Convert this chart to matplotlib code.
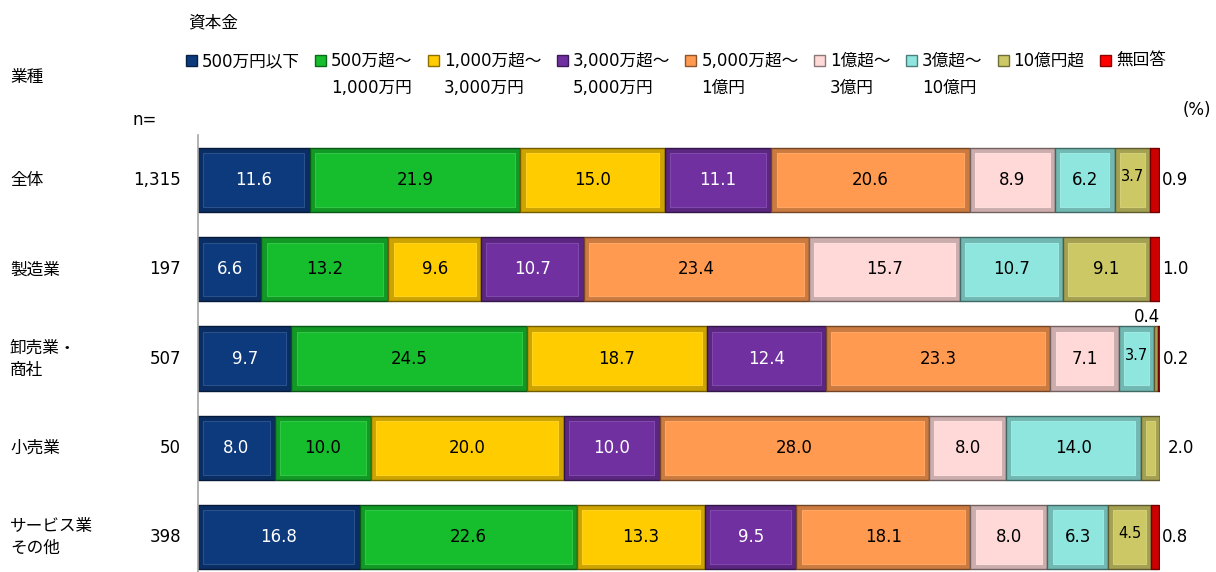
import matplotlib
matplotlib.use("Agg")
import matplotlib.pyplot as plt
import matplotlib.colors as mcolors
from matplotlib.patches import Patch
from matplotlib.transforms import blended_transform_factory
import numpy as np

plt.rcParams['font.family'] = ['DejaVu Sans', 'Noto Sans CJK JP']

# ---- data ----
industries = ["全体", "製造業", "卸売業・\n商社", "小売業", "サービス業\nその他"]
n_values = ["1,315", "197", "507", "50", "398"]
legend_line1 = ["500万円以下", "500万超～", "1,000万超～", "3,000万超～", "5,000万超～",
                "1億超～", "3億超～", "10億円超", "無回答"]
legend_line2 = ["", "1,000万円", "3,000万円", "5,000万円", "1億円", "3億円", "10億円", "", ""]
s_under500 = [11.6, 6.6, 9.7, 8.0, 16.8]
s_500_1000 = [21.9, 13.2, 24.5, 10.0, 22.6]
s_1000_3000 = [15.0, 9.6, 18.7, 20.0, 13.3]
s_3000_5000 = [11.1, 10.7, 12.4, 10.0, 9.5]
s_5000_1oku = [20.6, 23.4, 23.3, 28.0, 18.1]
s_1_3oku = [8.9, 15.7, 7.1, 8.0, 8.0]
s_3_10oku = [6.2, 10.7, 3.7, 14.0, 6.3]
s_over10oku = [3.7, 9.1, 0.4, 2.0, 4.5]
s_noanswer = [0.9, 1.0, 0.2, 0.0, 0.8]
series = [s_under500, s_500_1000, s_1000_3000, s_3000_5000, s_5000_1oku,
          s_1_3oku, s_3_10oku, s_over10oku, s_noanswer]

colors = ["#0C3A7C", "#16BE2E", "#FFCC00", "#7030A0", "#FF9A50",
          "#FFD8D8", "#8EE6DE", "#CCC866", "#FF0000"]
label_colors = ["white", "black", "black", "white", "black",
                "black", "black", "black", "black"]

def shade(c, f):
    r, g, b = mcolors.to_rgb(c)
    if f < 1:
        return (r * f, g * f, b * f)
    t = f - 1
    return (r + (1 - r) * t, g + (1 - g) * t, b + (1 - b) * t)

W, H = 1216, 572
fig = plt.figure(figsize=(W / 100, H / 100), dpi=100)
ax = fig.add_axes([198 / W, 0, 962 / W, 1 - 135 / H])

y = np.arange(len(industries))
bar_h = 0.72
inset_x = 0.55     # in % units (~5 px)
inset_y = 0.06     # in row units (~5 px)
left = np.zeros(len(industries))
for i, (vals, col) in enumerate(zip(series, colors)):
    vals = np.array(vals)
    ax.barh(y, vals, left=left, height=bar_h, color=shade(col, 0.8),
            edgecolor=shade(col, 0.45), linewidth=1.0)
    # inner face for bevel look
    wide = vals > 2 * inset_x + 0.3
    ax.barh(y[wide], vals[wide] - 2 * inset_x, left=left[wide] + inset_x,
            height=bar_h - 2 * inset_y, color=col,
            edgecolor=shade(col, 1.12), linewidth=0.8)
    for j, v in enumerate(vals):
        if v <= 0:
            continue
        is_last = all(series[k][j] == 0 for k in range(i + 1, len(series)))
        cx = left[j] + v / 2
        if is_last:
            off = 0.25 if v < 1.5 else 0.8
            ax.text(left[j] + v + off, y[j], f"{v:.1f}", ha='left', va='center',
                    fontsize=12, color='black')
        elif v < 1.5:
            ax.text(cx - 0.9, y[j] - bar_h / 2, f"{v:.1f}", ha='center',
                    va='bottom', fontsize=12, color='black')
        elif v < 5:
            ax.text(cx, y[j] - 0.04, f"{v:.1f}", ha='center', va='center',
                    fontsize=10.5, color=label_colors[i])
        else:
            ax.text(cx, y[j], f"{v:.1f}", ha='center', va='center',
                    fontsize=12, color=label_colors[i])
    left += vals

ax.set_xlim(0, 100)
ax.set_ylim(4.39, -0.504)
for s in ['top', 'right', 'bottom']:
    ax.spines[s].set_visible(False)
ax.spines['left'].set_color('#A6A6A6')
ax.spines['left'].set_linewidth(1.2)
ax.set_xticks([])
ax.set_yticks([])

trans = blended_transform_factory(fig.transFigure, ax.transData)
for j, (name, n) in enumerate(zip(industries, n_values)):
    ax.text(10 / W, y[j], name, transform=trans, ha='left', va='center',
            fontsize=12, linespacing=1.3)
    ax.text(181 / W, y[j], n, transform=trans, ha='right', va='center', fontsize=12)

fig.text(188 / W, 1 - 22 / H, "資本金", ha='left', va='center', fontsize=12)
fig.text(10 / W, 1 - 77 / H, "業種", ha='left', va='center', fontsize=12)
fig.text(133 / W, 1 - 120 / H, "n=", ha='left', va='center', fontsize=12)
fig.text(1183 / W, 1 - 110 / H, "(%)", ha='left', va='center', fontsize=12)

handles = [Patch(facecolor=c, edgecolor=shade(c, 0.55), linewidth=1.0) for c in colors]
leg = fig.legend(handles, legend_line1, loc='center left',
                 bbox_to_anchor=(186 / W, 1 - 61 / H), ncol=9, frameon=False,
                 fontsize=12, handlelength=0.65, handleheight=0.65,
                 handletextpad=0.3, columnspacing=0.93, borderpad=0,
                 borderaxespad=0)

fig.canvas.draw()
renderer = fig.canvas.get_renderer()
inv = fig.transFigure.inverted()
for t, l2 in zip(leg.get_texts(), legend_line2):
    if not l2:
        continue
    bb = t.get_window_extent(renderer)
    x0, _ = inv.transform((bb.x0, bb.y0))
    fig.text(x0, 1 - 88 / H, l2, ha='left', va='center', fontsize=12)

fig.savefig("out.png", dpi=100)
